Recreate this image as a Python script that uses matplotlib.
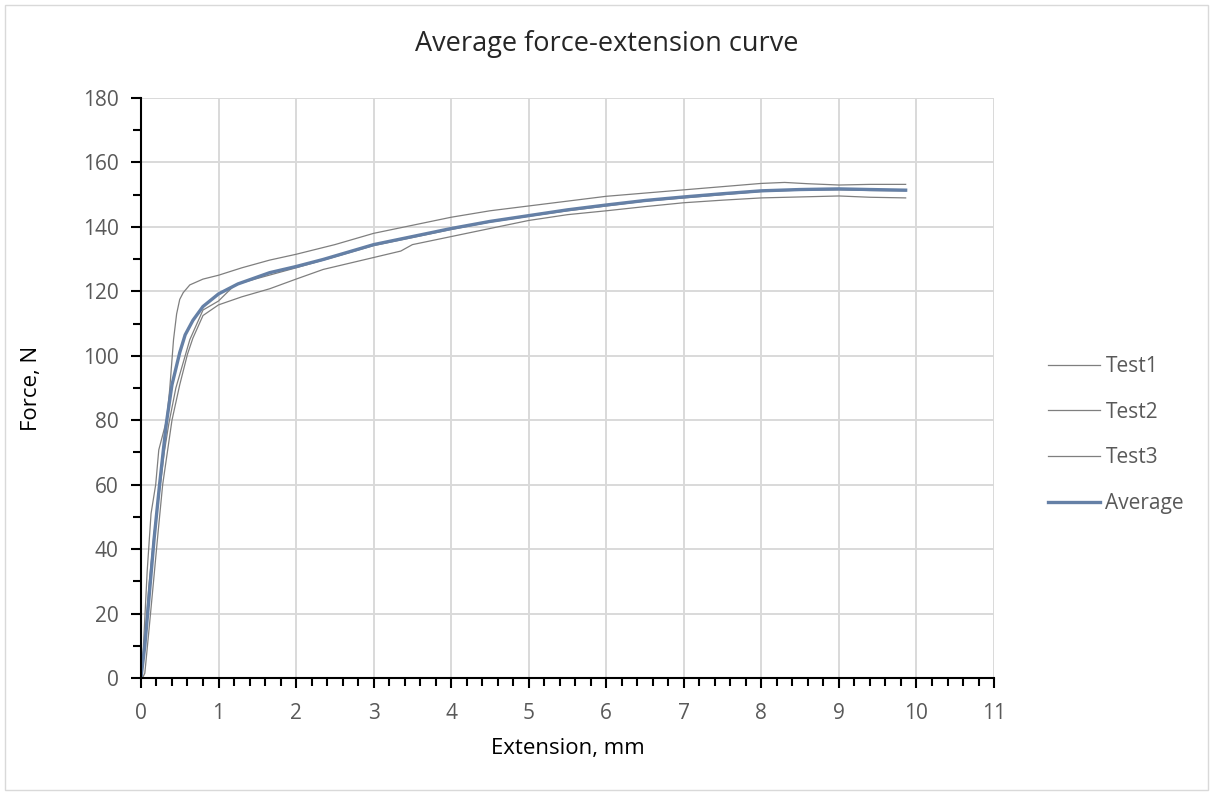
import numpy as np
import matplotlib.pyplot as plt
from matplotlib.ticker import MultipleLocator

# values (extension mm, force N)
test1_x = [0, 0.03, 0.08, 0.13, 0.19, 0.23, 0.33, 0.37, 0.42, 0.46, 0.5, 0.545, 0.63, 0.8, 1.0,
           1.3, 1.66, 2.0, 2.5, 3.0, 3.5, 4.0, 4.5, 5.0, 5.5, 6.0, 6.5, 7.0, 7.5, 8.0, 8.3, 8.6, 9.0, 9.4, 9.86]
test1_y = [0, 9, 33, 51, 60, 70.8, 80, 89.4, 105, 113, 117.5, 119.6, 122, 123.8, 125,
           127.3, 129.7, 131.5, 134.5, 138, 140.5, 143, 145, 146.5, 148, 149.5, 150.5, 151.5, 152.5, 153.5, 153.8, 153.4, 153, 153.2, 153.2]

test2_x = [0, 0.04, 0.1, 0.17, 0.24, 0.3, 0.36, 0.45, 0.57, 0.63, 0.8, 1.0, 1.21, 1.5, 2.0, 2.5,
           3.0, 3.5, 4.0, 4.5, 5.0, 5.5, 6.0, 6.5, 7.0, 7.5, 8.0, 8.5, 9.0, 9.4, 9.86]
test2_y = [0, 8, 28, 45, 58, 70, 79, 90, 100, 105, 114.2, 117, 122, 124, 127.3, 130.7,
           134.2, 136.7, 139.2, 141.5, 143.3, 145, 146.5, 148, 149, 150, 151, 151.4, 151.5, 151.3, 151.2]

test3_x = [0, 0.03, 0.05, 0.1, 0.16, 0.22, 0.28, 0.34, 0.4, 0.5, 0.6, 0.67, 0.8, 1.0, 1.3, 1.66,
           2.0, 2.35, 3.0, 3.35, 3.5, 4.0, 4.5, 5.0, 5.5, 6.0, 6.5, 7.0, 7.5, 8.0, 8.5, 9.0, 9.4, 9.86]
test3_y = [0, 0.5, 1.5, 14, 29.4, 45, 60, 70, 80, 91, 100.5, 105.5, 112.5, 115.8, 118.3, 120.8,
           123.8, 126.8, 130.5, 132.5, 134.5, 137, 139.5, 142, 143.8, 145, 146.3, 147.5, 148.3, 149, 149.3, 149.6, 149.2, 149]

avg_x = [0, 0.05, 0.12, 0.17, 0.24, 0.29, 0.33, 0.4, 0.5, 0.57, 0.67, 0.8, 1.0, 1.25, 1.66,
         2.0, 2.35, 3.0, 3.5, 4.0, 4.5, 5.0, 5.5, 6.0, 6.5, 7.0, 7.5, 8.0, 8.5, 9.0, 9.4, 9.86]
avg_y = [0, 10, 29.4, 43.3, 60, 71, 79.5, 91, 101, 106.5, 111, 115.3, 119.2, 122.3, 125.8,
         127.7, 129.9, 134.5, 137, 139.5, 141.7, 143.5, 145.3, 146.8, 148.2, 149.3, 150.3, 151.2, 151.6, 151.8, 151.6, 151.4]

plt.rcParams['font.family'] = ['Open Sans', 'DejaVu Sans']

fig = plt.figure(figsize=(12.13, 7.93), dpi=100)
ax = fig.add_axes([0.1162, 0.145, 0.7033, 0.7314])

gray = '#7f7f7f'
ax.plot(test1_x, test1_y, color=gray, lw=0.9, label='Test1')
ax.plot(test2_x, test2_y, color=gray, lw=0.9, label='Test2')
ax.plot(test3_x, test3_y, color=gray, lw=0.9, label='Test3')
ax.plot(avg_x, avg_y, color='#6580a6', lw=2.4, label='Average')

ax.set_xlim(0, 11)
ax.set_ylim(0, 180)
ax.xaxis.set_major_locator(MultipleLocator(1))
ax.xaxis.set_minor_locator(MultipleLocator(0.2))
ax.yaxis.set_major_locator(MultipleLocator(20))
ax.yaxis.set_minor_locator(MultipleLocator(10))
ax.grid(True, which='major', color='#d9d9d9', lw=1.4)
ax.set_axisbelow(True)

for s in ['top', 'right']:
    ax.spines[s].set_visible(False)
for s in ['left', 'bottom']:
    ax.spines[s].set_color('black')
    ax.spines[s].set_linewidth(1.5)

ax.tick_params(which='both', direction='out', color='black', width=1.5, labelsize=15, labelcolor='#595959')
ax.tick_params(which='major', length=7)
ax.tick_params(which='minor', length=6)
ax.tick_params(axis='y', pad=9)
ax.tick_params(axis='x', pad=11)

fig.text(0.5, 0.945, 'Average force-extension curve', fontsize=19.5, color='#262626',
         ha='center', va='center')
ax.set_xlabel('Extension, mm', fontsize=16, color='black')
ax.set_ylabel('Force, N', fontsize=16, color='black')
ax.xaxis.label.set_va('center')
ax.yaxis.label.set_va('center')
ax.xaxis.set_label_coords(0.5, -0.1207)
ax.yaxis.set_label_coords(-0.1278, 0.5)

leg = ax.legend(loc='center left', bbox_to_anchor=(1.0536, 0.419), borderaxespad=0, frameon=False,
                fontsize=15, labelcolor='#595959', handlelength=2.5, labelspacing=1.19, handletextpad=0.25)

# chart outline
fig.patches.append(plt.Rectangle((0.004, 0.004), 0.992, 0.99, transform=fig.transFigure,
                                 fill=False, edgecolor='#d9d9d9', lw=1))

fig.savefig('out.png', dpi=100)
